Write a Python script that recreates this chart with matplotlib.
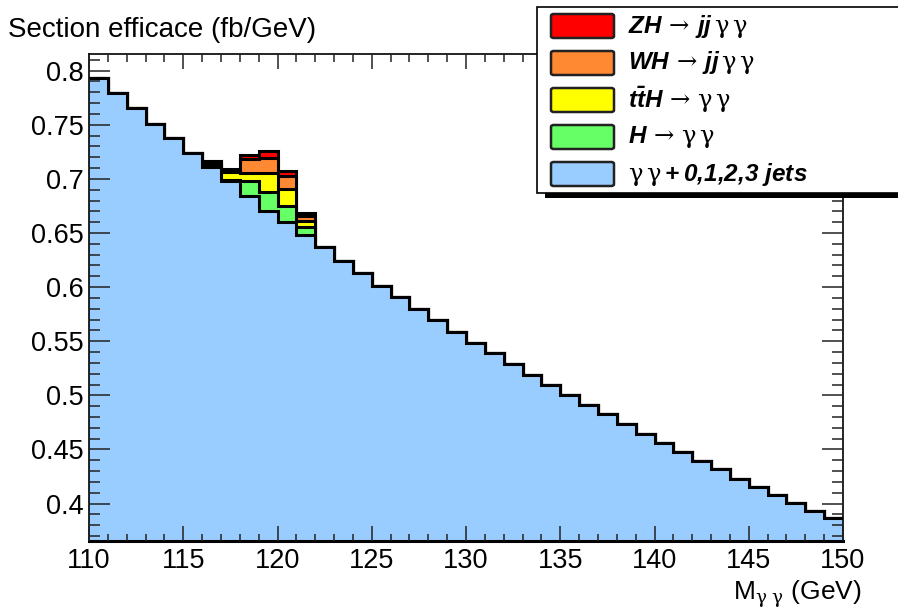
import numpy as np
import matplotlib
matplotlib.use('Agg')
import matplotlib.pyplot as plt
from matplotlib.patches import Rectangle, FancyBboxPatch

plt.rcParams['font.family'] = ['Liberation Sans', 'DejaVu Sans']
plt.rcParams['mathtext.fontset'] = 'custom'
plt.rcParams['mathtext.rm'] = 'Liberation Sans:bold:italic'
plt.rcParams['mathtext.it'] = 'Liberation Sans:bold:italic'
plt.rcParams['mathtext.bf'] = 'Liberation Sans:bold:italic'
plt.rcParams['mathtext.sf'] = 'DejaVu Serif'

# 1 GeV bins from 110 to 150
edges = np.arange(110, 151, 1)

# gamma gamma + 0,1,2,3 jets background (fb/GeV)
bkg = [0.793, 0.7797, 0.7652, 0.7507, 0.7375, 0.7242, 0.7107, 0.698, 0.6844, 0.6706,
       0.6598, 0.6481, 0.6367, 0.6243, 0.6127, 0.6012, 0.5905, 0.5797, 0.5695, 0.5587,
       0.5488, 0.5387, 0.5285, 0.5186, 0.5091, 0.5001, 0.4909, 0.4823, 0.4733, 0.4647,
       0.4564, 0.4474, 0.4394, 0.4317, 0.4231, 0.4153, 0.4077, 0.4006, 0.3932, 0.3867]

# signal contributions, bins 116..121 GeV
sig_first_bin = 116
h_gg = [0.0025, 0.0010, 0.0139, 0.0175, 0.0154, 0.0071]
tth = [0.0025, 0.0073, 0.0074, 0.0170, 0.0154, 0.0061]
wh = [0.0006, 0.0015, 0.0127, 0.0145, 0.0123, 0.0044]
zh = [0.0004, 0.0010, 0.0036, 0.0061, 0.0046, 0.0024]

labels = [r'$ZH\,\mathsf{\rightarrow}\,jj\,\mathsf{\gamma\,\gamma}$',
          r'$WH\,\mathsf{\rightarrow}\,jj\,\mathsf{\gamma\,\gamma}$',
          r'$t\bar{t}H\,\mathsf{\rightarrow\,\gamma\,\gamma}$',
          r'$H\,\mathsf{\rightarrow\,\gamma\,\gamma}$',
          r'$\mathsf{\gamma\,\gamma}+0{,}1{,}2{,}3\ jets$']
colors = ['#ff0000', '#ff8833', '#ffff00', '#66ff66', '#99ccff']

W, H = 898, 610


def pad_signal(vals):
    full = np.zeros(len(bkg))
    i0 = sig_first_bin - int(edges[0])
    full[i0:i0 + len(vals)] = vals
    return full


layers = [np.array(bkg)]
for comp in [h_gg, tth, wh, zh]:
    layers.append(layers[-1] + pad_signal(comp))

fig = plt.figure(figsize=(W / 100, H / 100), dpi=100)
ax = fig.add_axes([89 / W, 1 - 541 / H, (843 - 89) / W, (541 - 54) / H])

# stack drawn from the top layer down, ROOT style
for cum, col in zip(layers[::-1], colors):
    ax.stairs(cum, edges, baseline=0, fill=True, facecolor=col, edgecolor='none', lw=0)
    ax.stairs(cum, edges, baseline=None, color='black', lw=2.2)

ax.set_xlim(110, 150)
ax.set_ylim(0.3654, 0.8154)
ax.set_axisbelow(False)
ax.set_xticks(np.arange(110, 151, 5))
ax.set_xticks(np.arange(110, 151, 1), minor=True)
ax.set_yticks([0.4, 0.45, 0.5, 0.55, 0.6, 0.65, 0.7, 0.75, 0.8])
ax.set_yticklabels(['0.4', '0.45', '0.5', '0.55', '0.6', '0.65', '0.7', '0.75', '0.8'])
ax.set_yticks(np.arange(0.37, 0.815, 0.01), minor=True)
ax.tick_params(axis='both', which='both', direction='in', top=True, right=True,
               labelsize=19.5, width=1.1, color='#222222')
ax.tick_params(axis='x', which='major', length=10.8, pad=5)
ax.tick_params(axis='x', which='minor', length=5.4)
ax.tick_params(axis='y', which='major', length=15, pad=4)
ax.tick_params(axis='y', which='minor', length=8)
for s in ['left', 'top', 'right']:
    ax.spines[s].set_linewidth(1.2)
ax.spines['bottom'].set_linewidth(2.2)

fig.text(8 / W, 1 - 37 / H, 'Section efficace (fb/GeV)', fontsize=20,
         ha='left', va='baseline')
fig.text(862 / W, 1 - 600 / H, r'M$_{\mathsf{\gamma\ \gamma}}$ (GeV)', fontsize=19,
         ha='right', va='baseline')

# legend box with shadow
fig.add_artist(Rectangle((545 / W, 1 - 198 / H), 400 / W, 186 / H,
                         transform=fig.transFigure, facecolor='black', edgecolor='none'))
fig.add_artist(Rectangle((537 / W, 1 - 193 / H), 420 / W, 186 / H,
                         transform=fig.transFigure, facecolor='white',
                         edgecolor='black', lw=1.2))
for k, (lab, col) in enumerate(zip(labels, colors)):
    yc = 26 + 37 * k
    fig.add_artist(FancyBboxPatch((551 / W, 1 - (yc + 12) / H), 63 / W, 24 / H,
                                  boxstyle='round,pad=0,rounding_size=0.003',
                                  transform=fig.transFigure, facecolor=col,
                                  edgecolor='#222222', lw=1.8))
    fig.text(628 / W, 1 - yc / H, lab, fontsize=17.5, ha='left', va='center')

fig.savefig('out.png', dpi=100)
